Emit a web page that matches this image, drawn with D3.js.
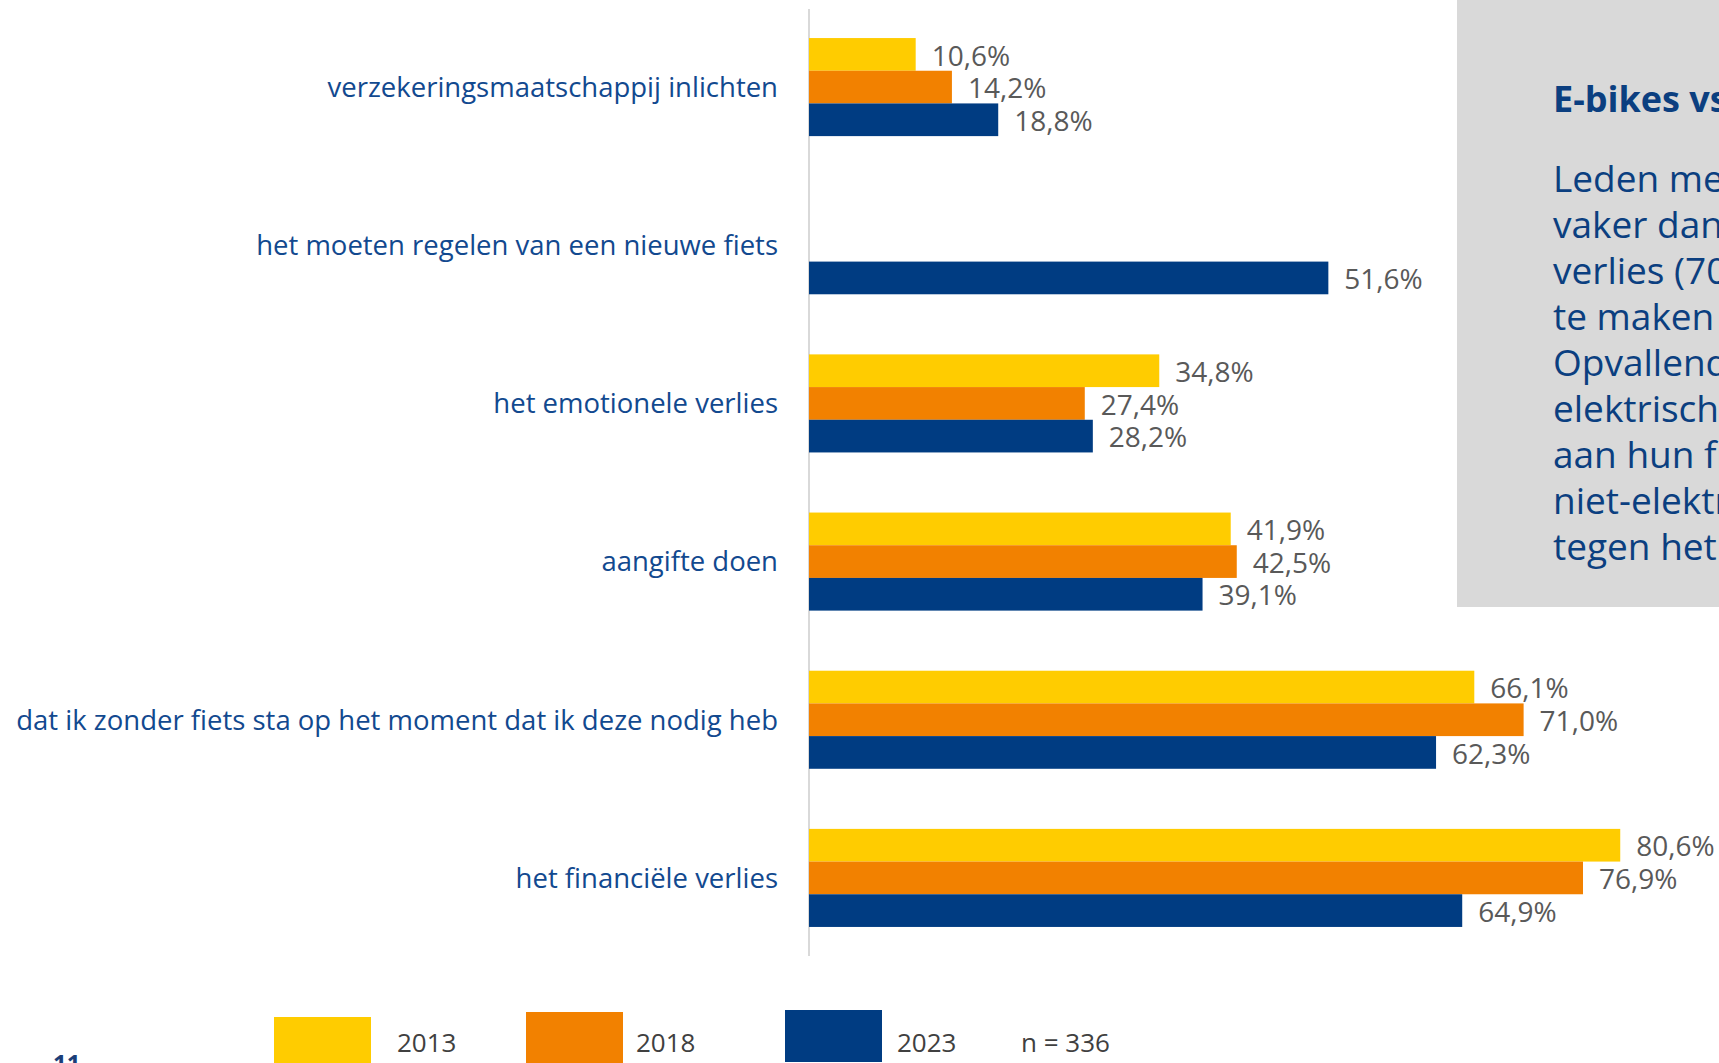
<!DOCTYPE html>
<html>
<head>
<meta charset="utf-8">
<script src="https://cdn.jsdelivr.net/npm/d3@7"></script>
<style>
  html, body { margin: 0; padding: 0; background: #fff; overflow: hidden; }
  svg { display: block; font-family: "Open Sans", sans-serif; }
</style>
</head>
<body>
<div id="chart"></div>
<script>
const categories = [
  "verzekeringsmaatschappij inlichten",
  "het moeten regelen van een nieuwe fiets",
  "het emotionele verlies",
  "aangifte doen",
  "dat ik zonder fiets sta op het moment dat ik deze nodig heb",
  "het financiële verlies"
];
const years = ["2013", "2018", "2023"];
const values2013 = [10.6, null, 34.8, 41.9, 66.1, 80.6];
const values2018 = [14.2, null, 27.4, 42.5, 71.0, 76.9];
const values2023 = [18.8, 51.6, 28.2, 39.1, 62.3, 64.9];
const sampleNote = "n = 336";
const boxTitle = "E-bikes vs niet-elektrische fietsen";
const boxLines = [
  "Leden met een e-bike noemen",
  "vaker dan anderen het financiële",
  "verlies (70%) en het zonder fiets",
  "te maken hebben.",
  "Opvallend is dat leden met een",
  "elektrische fiets minder waarde",
  "aan hun fiets hechten dan leden met",
  "niet-elektrische fiets, terwijl",
  "tegen het verlies."
];

const W = 1719, H = 1063;
const colors = {"2013": "#FFCC00", "2018": "#F28100", "2023": "#003C82"};

const series = {"2013": values2013, "2018": values2018, "2023": values2023};
const rows = categories.map((c, i) => ({
  cat: c,
  vals: years.map(yr => ({year: yr, v: series[yr][i]}))
}));

const svg = d3.select("#chart").append("svg")
  .attr("width", W).attr("height", H);

const x = d3.scaleLinear().domain([0, 100]).range([809, 1815.5]);
const y = d3.scaleBand().domain(categories).range([8, 957])
  .paddingInner(0.38).paddingOuter(0.19);
const ySub = d3.scaleBand().domain(years).range([0, y.bandwidth()]);

// grey text box on the right
svg.append("rect")
  .attr("x", 1457).attr("y", 0).attr("width", W - 1457).attr("height", 607)
  .attr("fill", "#D9D9D9");
svg.append("text")
  .attr("x", 1553).attr("y", 112)
  .attr("font-size", 36).attr("font-weight", 700).attr("fill", "#0B3F80")
  .text(boxTitle);
svg.append("g").selectAll("text")
  .data(boxLines)
  .enter().append("text")
  .attr("x", 1553)
  .attr("y", (d, i) => 192 + i * 46)
  .attr("font-size", 37).attr("fill", "#0B3F80")
  .text(d => d);

// axis line
svg.append("line")
  .attr("x1", x(0)).attr("x2", x(0))
  .attr("y1", 9).attr("y2", 956)
  .attr("stroke", "#D9D9D9").attr("stroke-width", 2);

const groups = svg.append("g").selectAll("g")
  .data(rows)
  .enter().append("g")
  .attr("transform", d => "translate(0," + y(d.cat) + ")");

groups.append("text")
  .attr("x", 778)
  .attr("y", y.bandwidth() / 2)
  .attr("dy", "0.36em")
  .attr("text-anchor", "end")
  .attr("font-size", 27.5)
  .attr("fill", "#12498F")
  .text(d => d.cat);

const bars = groups.selectAll("g.bar")
  .data(d => d.vals.filter(e => e.v !== null))
  .enter().append("g").attr("class", "bar");

bars.append("rect")
  .attr("x", x(0))
  .attr("y", d => ySub(d.year))
  .attr("width", d => x(d.v) - x(0))
  .attr("height", ySub.bandwidth())
  .attr("fill", d => colors[d.year]);

bars.append("text")
  .attr("x", d => x(d.v) + 16)
  .attr("y", d => ySub(d.year) + ySub.bandwidth() / 2)
  .attr("dy", "0.4em")
  .attr("font-size", 28)
  .attr("fill", "#595959")
  .text(d => d.v.toFixed(1).replace(".", ",") + "%");

// legend
const legendX = [274, 526, 785];
const legendTop = [1017, 1012, 1010];
const legendTextX = [397, 636, 897];
const legend = svg.append("g").selectAll("g")
  .data(years)
  .enter().append("g");
legend.append("rect")
  .attr("x", (d, i) => legendX[i])
  .attr("y", (d, i) => legendTop[i])
  .attr("width", 97).attr("height", 52)
  .attr("fill", d => colors[d]);
legend.append("text")
  .attr("x", (d, i) => legendTextX[i])
  .attr("y", 1052)
  .attr("font-size", 26)
  .attr("fill", "#404040")
  .text(d => d);
svg.append("text")
  .attr("x", 1021).attr("y", 1052)
  .attr("font-size", 26).attr("fill", "#404040")
  .text(sampleNote);

// page number
svg.append("text")
  .attr("x", 53).attr("y", 1072)
  .attr("font-size", 24).attr("font-weight", 700).attr("fill", "#1B3E78")
  .text("11");
</script>
</body>
</html>
